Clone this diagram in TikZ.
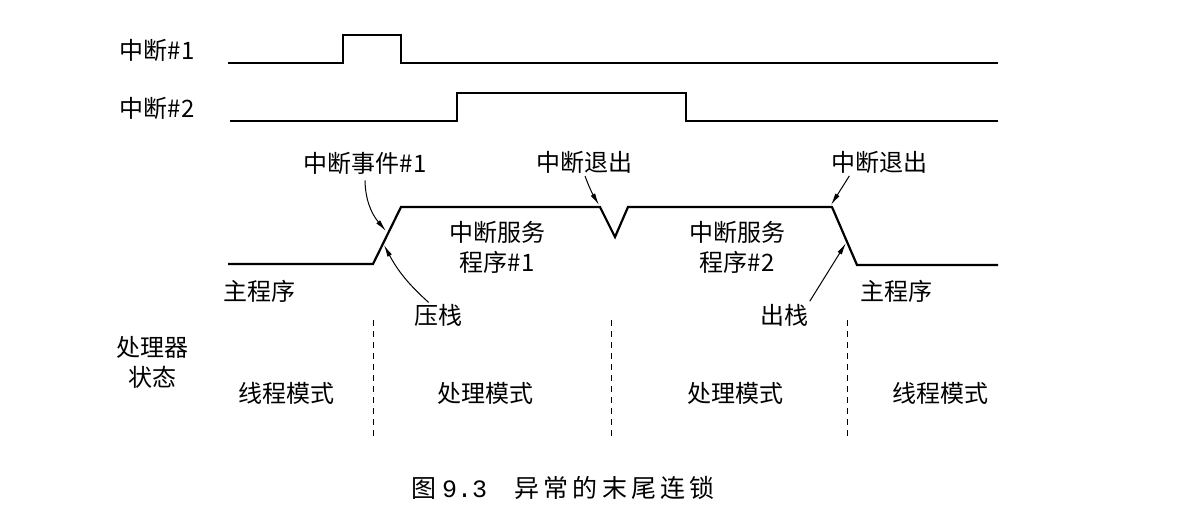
\documentclass[tikz,border=0pt]{standalone}
\usepackage{fontspec}
\setmainfont{Noto Sans CJK SC}
\setmonofont{Liberation Mono}
\usetikzlibrary{arrows.meta,positioning}

\begin{document}
\begin{tikzpicture}[x=1pt,y=-1pt,
  sig/.style={line width=2.2pt,line join=miter},
  lbl/.style={font=\fontsize{24}{30}\selectfont,inner sep=0pt},
  ptr/.style={-{Latex[length=12pt,width=5pt]},line width=1pt},
  sep/.style={line width=0.9pt,dash pattern=on 6pt off 5pt}]
  \useasboundingbox (0,0) rectangle (1185,530);
  % interrupt inputs
  \node[lbl] (irqa) at (157,50) {中断\#1};
  \node[lbl] (irqb) at (157,108) {中断\#2};
  \draw[sig] (228,63) -- (343,63) -- (343,35) -- (401,35) -- (401,63) -- (998,63);
  \draw[sig] (230,121) -- (457,121) -- (457,93) -- (686,93) -- (686,121) -- (998,121);
  % processor activity
  \draw[sig] (228,264) -- (373,264) -- (401,207) -- (600,207) -- (615,237)
    -- (628,207) -- (832,207) -- (857,265) -- (998,265);
  \coordinate (tEvt) at (386,231);
  \coordinate (tPush) at (384,245);
  \coordinate (tExa) at (599,205);
  \coordinate (tExb) at (831,205);
  \coordinate (tPop) at (846,243);
  \node[lbl] (evt) at (365,163) {中断事件\#1};
  \node[lbl] (push) at (438,315) {压栈};
  \node[lbl] (exa) at (584,162) {中断退出};
  \node[lbl] (exb) at (879,162) {中断退出};
  \node[lbl] (pop) at (784,315) {出栈};
  \draw[ptr,shorten <=6pt] (evt.south) to[bend right=20] (tEvt);
  \draw[ptr,shorten <=2pt] (push.125) to[bend left=10] (tPush);
  \draw[ptr,shorten <=3pt] (exa.south) to[bend right=5] (tExa);
  \draw[ptr,shorten <=3pt] (exb.202) -- (tExb);
  \draw[ptr,shorten <=3pt] (pop.north east) -- (tPop);
  \node[lbl,align=center] (isra) at (497,247) {中断服务\\程序\#1};
  \node[lbl,align=center] (isrb) at (737,247) {中断服务\\程序\#2};
  \node[lbl] (mainl) at (259,291) {主程序};
  \node[lbl] (mainr) at (896,291) {主程序};
  % processor state
  \node[lbl,align=center] (state) at (152,362) {处理器\\状态};
  \node[lbl] (thra) at (286,393) {线程模式};
  \node[lbl] (hdla) at (485,393) {处理模式};
  \node[lbl] (hdlb) at (735,393) {处理模式};
  \node[lbl] (thrb) at (940,393) {线程模式};
  \foreach \x in {373,611,847}
    \draw[sep] (\x,320) -- (\x,440);
  \node[font=\fontsize{25}{30}\selectfont] (cap) at (563,488)
    {图 \texttt{9.3}\hspace{1.1em}异\,常\,的\,末\,尾\,连\,锁};
\end{tikzpicture}
\end{document}
